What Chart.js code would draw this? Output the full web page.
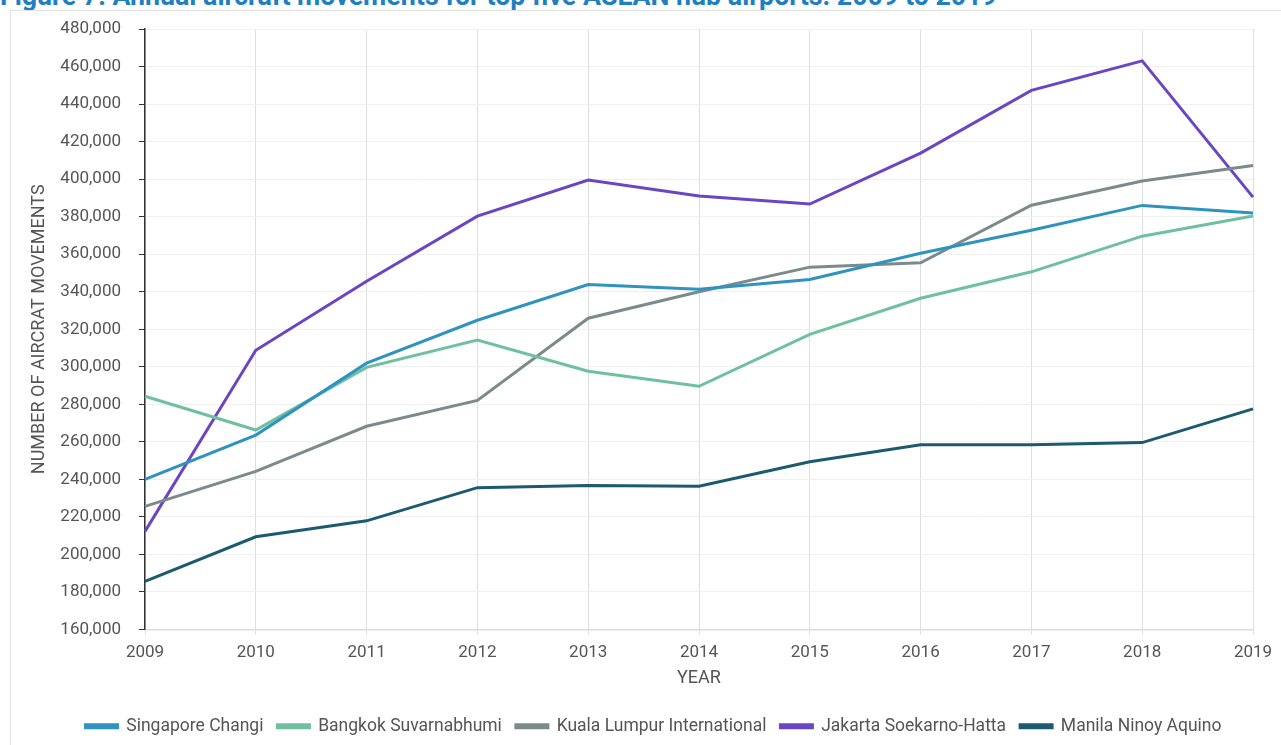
<!DOCTYPE html>
<html>
<head>
<meta charset="utf-8">
<script src="https://cdn.jsdelivr.net/npm/chart.js@4.4.0/dist/chart.umd.min.js"></script>
<style>
  body { margin: 0; background: #fff; overflow: hidden; font-family: Roboto, sans-serif; }
  #title {
    position: absolute; left: 0; top: -20px;
    font: bold 26.8px Roboto, sans-serif; color: #1e7fc2; white-space: nowrap;
  }
  #card {
    position: absolute; left: 10px; top: 10px; width: 1300px; height: 760px;
    border: 1px solid #e2e2e2; background: #fff;
  }
  #wrap { position: absolute; left: 11px; top: 11px; width: 1270px; height: 734px; }
</style>
</head>
<body>
<div id="title">Figure 7: Annual aircraft movements for top five ASEAN hub airports: 2009 to 2019</div>
<div id="card"></div>
<div id="wrap"><canvas id="myChart"></canvas></div>
<script>
// years on the x axis
var years = ["2009","2010","2011","2012","2013","2014","2015","2016","2017","2018","2019"];

// aircraft movements per airport
var singapore = [240000, 263600, 301900, 324800, 343800, 341300, 346500, 360500, 372800, 386000, 382000];
var bangkok   = [284300, 266300, 299700, 314200, 297600, 289600, 317300, 336500, 350600, 369600, 380300];
var kualaLumpur = [225600, 244300, 268300, 282100, 325900, 340000, 353100, 355400, 386100, 399000, 407300];
var jakarta   = [212300, 308800, 345600, 380300, 399500, 391000, 386700, 413900, 447300, 463000, 390400];
var manila    = [185600, 209400, 217900, 235600, 236800, 236300, 249400, 258400, 258400, 259600, 277600];

var yTicks = { min: 160000, max: 480000, step: 20000 };

function line(label, values, color){
	return {
		label: label,
		data: values,
		borderColor: color,
		backgroundColor: color,
		borderWidth: 3,
		pointRadius: 0,
		tension: 0,
		fill: false
	};
}

document.addEventListener("DOMContentLoaded", function() {

Chart.defaults.font.family = "Roboto, sans-serif";
Chart.defaults.color = "#555";

const data = {
	labels: years,
	datasets: [
		line("Singapore Changi", singapore, "#2f93c0"),
		line("Bangkok Suvarnabhumi", bangkok, "#6fc0a0"),
		line("Kuala Lumpur International", kualaLumpur, "#7b8b8c"),
		line("Jakarta Soekarno-Hatta", jakarta, "#6a46c2"),
		line("Manila Ninoy Aquino", manila, "#1c5a70")
	]
};

const config = {
	type: 'line',
	data: data,
	options: {
		responsive: true,
		maintainAspectRatio: false,
		animation: false,
		// left padding only to centre the legend like the original
		layout: { padding: { top: 18, right: 28, left: 43, bottom: 0 } },
		plugins: {
			legend: {
				position: 'bottom',
				labels: {
					boxWidth: 32,
					boxHeight: 3,
					padding: 14,
					font: { size: 17.5 },
					color: '#555'
				}
			},
			tooltip: { enabled: false }
		},
		scales: {
			x: {
				grid: { color: '#dedede', tickColor: '#dedede', tickLength: 5 },
				border: { color: '#dcdcdc', width: 1.5 },
				ticks: { font: { size: 17 }, color: '#555', padding: 8, maxRotation: 0 },
				title: { display: true, text: 'YEAR', font: { size: 18 }, color: '#555', padding: { top: 4, bottom: 14 } },
				afterFit: function(s){ s.height = 74; }
			},
			y: {
				min: yTicks.min,
				max: yTicks.max,
				ticks: {
					stepSize: yTicks.step,
					font: { size: 17 },
					color: '#555',
					padding: 18,
					callback: function(v){ return v.toLocaleString('en-US'); }
				},
				grid: { color: '#f0f0f0', tickColor: '#333', tickLength: 6 },
				border: { color: '#333', width: 1.5 },
				title: { display: true, text: 'NUMBER OF AIRCRAT MOVEMENTS', font: { size: 18 }, color: '#555', padding: { top: -25, bottom: 4 } },
				afterFit: function(s){ s.width = 91; s.paddingTop = 0; s.paddingBottom = 0; }
			}
		}
	}
};

const myChart = new Chart(document.getElementById('myChart'), config);
});
</script>
</body>
</html>
